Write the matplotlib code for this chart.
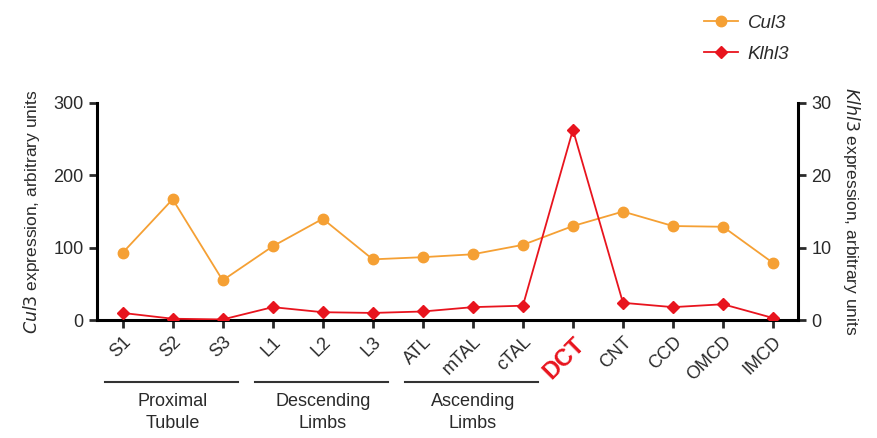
import matplotlib.pyplot as plt
import matplotlib.transforms as mtransforms
import numpy as np

plt.rcParams['font.family'] = ['Liberation Sans', 'DejaVu Sans']

segments = ['S1', 'S2', 'S3', 'L1', 'L2', 'L3', 'ATL', 'mTAL', 'cTAL',
            'DCT', 'CNT', 'CCD', 'OMCD', 'IMCD']
cul3 = [93, 167, 55, 102, 140, 84, 87, 91, 104, 130, 150, 130, 129, 79]
klhl3 = [1.0, 0.2, 0.1, 1.8, 1.1, 1.0, 1.2, 1.8, 2.0, 26.3, 2.4, 1.8, 2.2, 0.3]
groups = ['Proximal\nTubule', 'Descending\nLimbs', 'Ascending\nLimbs']
group_spans = [(0, 2), (3, 5), (6, 8)]

orange = '#F5A034'
red = '#E8141E'

fig = plt.figure(figsize=(8.78, 4.38), dpi=100)
ax = fig.add_axes([0.110, 0.269, 0.799, 0.496])
ax2 = ax.twinx()

x = np.arange(len(segments))
l1, = ax.plot(x, cul3, color=orange, marker='o', markersize=7.5, lw=1.3,
              label='Cul3')
l2, = ax2.plot(x, klhl3, color=red, marker='D', markersize=6, lw=1.3,
               label='Klhl3')

ax.set_xlim(-0.52, 13.5)
ax.set_ylim(0, 300)
ax2.set_ylim(0, 30)
ax.set_yticks([0, 100, 200, 300])
ax2.set_yticks([0, 10, 20, 30])

for a in (ax, ax2):
    a.spines['top'].set_visible(False)
    for s in a.spines.values():
        s.set_linewidth(2.2)
    a.tick_params(width=2, length=6, labelsize=13, colors='#2a2a2a')
ax.spines['right'].set_visible(False)
ax2.spines['left'].set_visible(False)
ax2.spines['bottom'].set_visible(False)

ax.set_xticks(x)
ax.set_xticklabels(segments, rotation=45, ha='right', va='top',
                   rotation_mode='anchor')
for lab in ax.get_xticklabels():
    lab.set_fontsize(13)
    if lab.get_text() == 'DCT':
        lab.set_color(red)
        lab.set_fontweight('bold')
        lab.set_fontsize(17)

ax.set_ylabel('$\\it{Cul3}$ expression, arbitrary units', fontsize=12.5,
              labelpad=8, color='#2a2a2a')
ax2.set_ylabel('$\\it{Klhl3}$ expression, arbitrary units', fontsize=12.5,
               rotation=270, labelpad=22, color='#2a2a2a')

trans = mtransforms.blended_transform_factory(ax.transData, ax.transAxes)
for name, (a, b) in zip(groups, group_spans):
    ax.plot([a - 0.36, b + 0.3], [-0.286, -0.286], color='#333333', lw=1.5,
            transform=trans, clip_on=False)
    ax.text((a + b) / 2, -0.335, name, transform=trans, ha='center', va='top',
            fontsize=13, color='#2a2a2a', linespacing=1.4)

leg = fig.legend([l1, l2], ['Cul3', 'Klhl3'], loc='upper left',
                 bbox_to_anchor=(0.783, 1.005), frameon=False, fontsize=13.5,
                 handlelength=1.8, handletextpad=0.5, labelspacing=0.75)
for t in leg.get_texts():
    t.set_fontstyle('italic')
    t.set_color('#2a2a2a')

fig.savefig('out.png', dpi=100)
